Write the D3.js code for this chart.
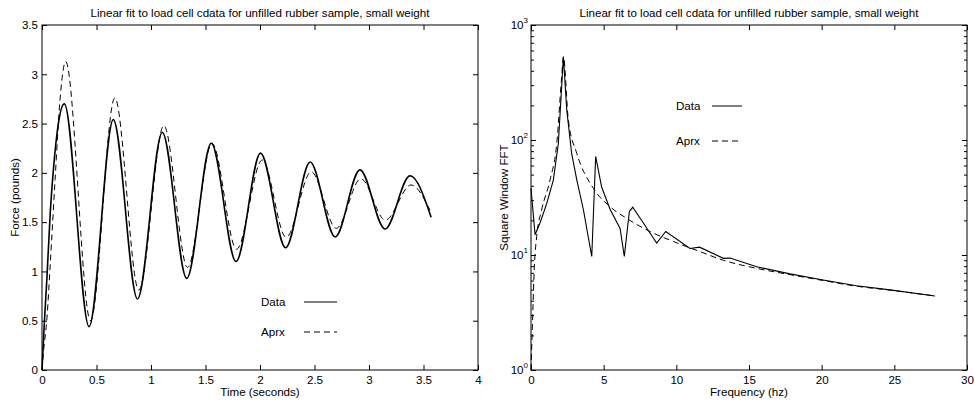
<!DOCTYPE html>
<html>
<head>
  <meta charset="UTF-8">
  <title>Load cell fit</title>
  <style>
    body { margin: 0; background: #fff; }
    svg { display: block; font-family: "Liberation Sans", Arial, sans-serif; }
    .lbl { font-size: 11.6px; fill: #000; }
    .axis path, .axis line { stroke: #000; }
    .axis text { font-size: 11.6px; font-family: "Liberation Sans", Arial, sans-serif; fill: #000; }
  </style>
</head>
<body>
<svg></svg>
<script src="https://d3js.org/d3.v7.min.js"></script>
<script>

let width = 975,
    height = 406;

let svg = d3.select("svg")
    .attr("width", width)
    .attr("height", height);

const title = "Linear fit to load cell cdata for unfilled rubber sample, small weight";

// left panel: time response (seconds, pounds)
const timeData = [0, 0.02, 0.045, 0.076, 0.106, 0.15, 0.205, 0.432, 0.654, 0.876, 1.104, 1.328, 1.553, 1.78, 2.005, 2.235, 2.46, 2.69, 2.917, 3.147, 3.376, 3.57];
const forceData = [0, 0.45, 0.93, 1.6, 2.05, 2.5, 2.70, 0.44, 2.54, 0.72, 2.41, 0.93, 2.30, 1.10, 2.20, 1.24, 2.11, 1.35, 2.03, 1.43, 1.97, 1.55];
const timeAprx = [0, 0.015, 0.045, 0.076, 0.12, 0.165, 0.217, 0.445, 0.668, 0.888, 1.118, 1.335, 1.56, 1.785, 2.02, 2.24, 2.47, 2.70, 2.925, 3.15, 3.385, 3.56];
const forceAprx = [0, 0.2, 0.52, 1.08, 1.93, 2.74, 3.13, 0.50, 2.76, 0.81, 2.48, 1.04, 2.30, 1.225, 2.13, 1.346, 2.01, 1.437, 1.94, 1.52, 1.877, 1.62];
const timeTicks = [0, 0.5, 1, 1.5, 2, 2.5, 3, 3.5, 4];
const forceTicks = [0, 0.5, 1, 1.5, 2, 2.5, 3, 3.5];

// right panel: spectrum
const freqData = [0, 0.28, 0.62, 1.08, 1.54, 1.88, 2.23, 2.46, 2.8, 3.15, 3.6, 4.18, 4.45, 4.86, 5.44, 6.13, 6.42, 6.77, 7.0, 7.73, 8.65, 9.27, 10.94, 11.6, 13.24, 13.7, 15.53, 17.82, 20.1, 22.4, 24.7, 27.8];
const fftData = [38, 15, 19, 28, 45, 93, 530, 182, 76, 45, 25, 9.7, 72, 39, 25, 17, 9.7, 24, 26, 19, 12.7, 16, 11.4, 11.7, 9.35, 9.4, 7.9, 6.85, 6.07, 5.4, 4.97, 4.4];
const freqAprx = [0, 0.1, 0.23, 0.39, 0.73, 1.31, 1.77, 2.11, 2.23, 2.57, 3.15, 4.29, 5.44, 6.59, 8.19, 9.8, 11.63, 13.24, 15.53, 17.82, 20.1, 22.4, 24.7, 27.8];
const fftAprx = [1, 2.5, 7.9, 14.5, 24.6, 45, 93, 355, 530, 149, 76.5, 38, 26.3, 20.8, 16, 13.1, 10.7, 9.0, 7.65, 6.75, 6.0, 5.35, 4.95, 4.4];
const freqTicks = [0, 5, 10, 15, 20, 25, 30];
const fftDecades = [0, 1, 2, 3];

const legendLabels = ["Data", "Aprx"];

let yTop = 25, yBot = 370;

// ---------- left panel ----------
let x1 = d3.scaleLinear().domain([0, 4]).range([42, 478]);
let y1 = d3.scaleLinear().domain([0, 3.5]).range([yBot, yTop]);

let p1 = svg.append("g");

p1.append("rect")
    .attr("x", 42).attr("y", yTop)
    .attr("width", 436).attr("height", yBot - yTop)
    .attr("fill", "none").attr("stroke", "#000").attr("stroke-width", 1);

p1.append("g").attr("class", "axis")
    .attr("transform", "translate(0," + yBot + ")")
    .call(d3.axisBottom(x1).tickValues(timeTicks).tickSize(-5).tickPadding(6).tickFormat(d3.format("")))
    .call(g => g.select(".domain").remove());
p1.append("g").attr("class", "axis")
    .attr("transform", "translate(0," + yTop + ")")
    .call(d3.axisTop(x1).tickValues(timeTicks).tickSize(-5).tickFormat(""))
    .call(g => g.select(".domain").remove());
p1.append("g").attr("class", "axis")
    .attr("transform", "translate(42,0)")
    .call(d3.axisLeft(y1).tickValues(forceTicks).tickSize(-5).tickPadding(4).tickFormat(d3.format("")))
    .call(g => g.select(".domain").remove());
p1.append("g").attr("class", "axis")
    .attr("transform", "translate(478,0)")
    .call(d3.axisRight(y1).tickValues(forceTicks).tickSize(-5).tickFormat(""))
    .call(g => g.select(".domain").remove());

let line1 = d3.line().x(d => x1(d[0])).y(d => y1(d[1])).curve(d3.curveMonotoneX);

p1.append("path")
    .attr("d", line1(d3.zip(timeAprx, forceAprx)))
    .attr("fill", "none").attr("stroke", "#000").attr("stroke-width", 1)
    .attr("stroke-dasharray", "6,4");
p1.append("path")
    .attr("d", line1(d3.zip(timeData, forceData)))
    .attr("fill", "none").attr("stroke", "#000").attr("stroke-width", 1.6);

p1.append("text").attr("class", "lbl")
    .attr("x", 260).attr("y", 17).attr("text-anchor", "middle").text(title);
p1.append("text").attr("class", "lbl")
    .attr("x", 260).attr("y", 396).attr("text-anchor", "middle").text("Time (seconds)");
p1.append("text").attr("class", "lbl")
    .attr("transform", "translate(19," + (yTop + yBot) / 2 + ") rotate(-90)")
    .attr("text-anchor", "middle").text("Force (pounds)");

// ---------- right panel ----------
let x2 = d3.scaleLinear().domain([0, 30]).range([531, 967]);
let y2 = d3.scaleLog().domain([1, 1000]).range([yBot, yTop]);

let p2 = svg.append("g");

p2.append("rect")
    .attr("x", 531).attr("y", yTop)
    .attr("width", 436).attr("height", yBot - yTop)
    .attr("fill", "none").attr("stroke", "#000").attr("stroke-width", 1);

p2.append("g").attr("class", "axis")
    .attr("transform", "translate(0," + yBot + ")")
    .call(d3.axisBottom(x2).tickValues(freqTicks).tickSize(-5).tickPadding(6).tickFormat(d3.format("")))
    .call(g => g.select(".domain").remove());
p2.append("g").attr("class", "axis")
    .attr("transform", "translate(0," + yTop + ")")
    .call(d3.axisTop(x2).tickValues(freqTicks).tickSize(-5).tickFormat(""))
    .call(g => g.select(".domain").remove());

let majors = fftDecades.map(e => Math.pow(10, e));
let minors = [];
majors.slice(0, -1).forEach(m => { for (let k = 2; k < 10; k++) minors.push(m * k); });

[[531, d3.axisLeft], [967, d3.axisRight]].forEach(([xp, ax]) => {
    p2.append("g").attr("class", "axis")
        .attr("transform", "translate(" + xp + ",0)")
        .call(ax(y2).tickValues(majors).tickSize(-5).tickFormat(""))
        .call(g => g.select(".domain").remove());
    p2.append("g").attr("class", "axis")
        .attr("transform", "translate(" + xp + ",0)")
        .call(ax(y2).tickValues(minors).tickSize(-3).tickFormat(""))
        .call(g => g.select(".domain").remove());
});

// 10^n labels
let ylab = p2.append("g").selectAll("text")
    .data(fftDecades)
    .enter().append("text")
    .attr("class", "lbl")
    .attr("x", 528)
    .attr("y", d => y2(Math.pow(10, d)) + 4)
    .attr("text-anchor", "end");
ylab.append("tspan").text("10");
ylab.append("tspan").attr("dy", -6).style("font-size", "8px").text(d => d);

let line2 = d3.line().x(d => x2(d[0])).y(d => y2(d[1]));

p2.append("path")
    .attr("d", line2.curve(d3.curveMonotoneX)(d3.zip(freqAprx, fftAprx)))
    .attr("fill", "none").attr("stroke", "#000").attr("stroke-width", 1)
    .attr("stroke-dasharray", "6,4");
p2.append("path")
    .attr("d", line2.curve(d3.curveLinear)(d3.zip(freqData, fftData)))
    .attr("fill", "none").attr("stroke", "#000").attr("stroke-width", 1.1);

p2.append("text").attr("class", "lbl")
    .attr("x", 749).attr("y", 17).attr("text-anchor", "middle").text(title);
p2.append("text").attr("class", "lbl")
    .attr("x", 749).attr("y", 396).attr("text-anchor", "middle").text("Frequency (hz)");
p2.append("text").attr("class", "lbl")
    .attr("transform", "translate(508," + (yTop + yBot) / 2 + ") rotate(-90)")
    .attr("text-anchor", "middle").text("Square Window FFT");

// ---------- legends ----------
function legend(g, tx, lx0, lx1, ys) {
    let lg = g.selectAll(null)
        .data(legendLabels)
        .enter().append("g");
    lg.append("text").attr("class", "lbl")
        .attr("x", tx).attr("y", (d, i) => ys[i] + 4)
        .text(d => d);
    lg.append("line")
        .attr("x1", lx0).attr("x2", lx1)
        .attr("y1", (d, i) => ys[i]).attr("y2", (d, i) => ys[i])
        .attr("stroke", "#000").attr("stroke-width", 1)
        .attr("stroke-dasharray", (d, i) => i ? "6,4" : null);
}
legend(p1, 261, 304, 337, [302, 332]);
legend(p2, 676, 712, 742, [106, 141]);

</script>
</body>
</html>
